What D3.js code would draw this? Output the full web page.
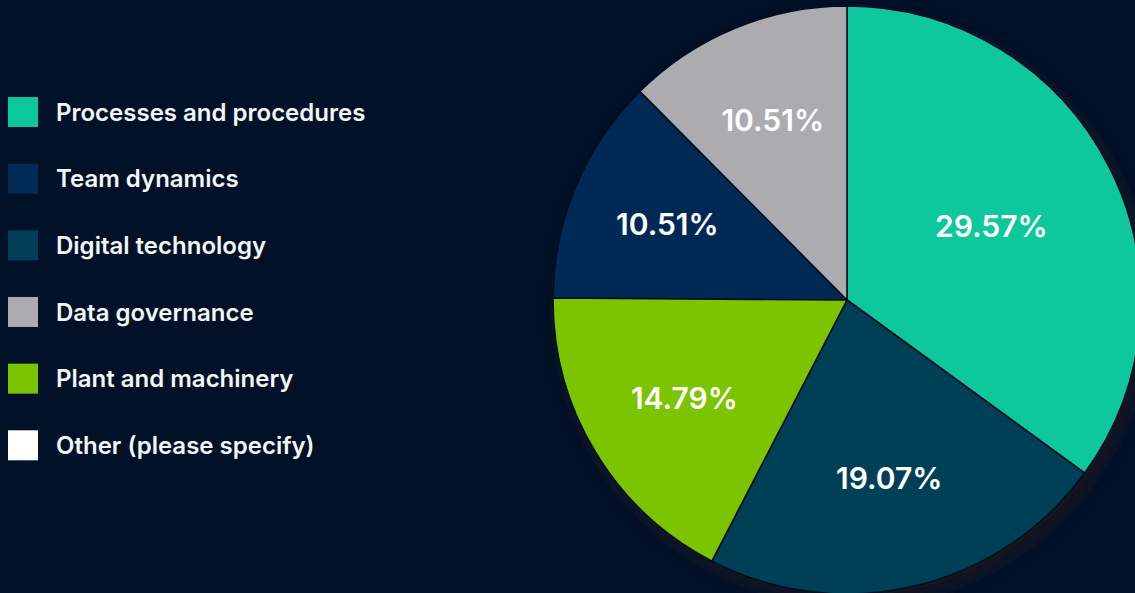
<!DOCTYPE html>
<html>
<head>
<meta charset="utf-8">
<script src="https://cdn.jsdelivr.net/npm/d3@7"></script>
<style>
  html, body { margin: 0; padding: 0; background: #001128; overflow: hidden; }
  svg { display: block; }
</style>
</head>
<body>
<svg id="chart" width="1135" height="593"></svg>
<script>
// Survey responses: share of answers per challenge area
const categories = [
  "Processes and procedures",
  "Team dynamics",
  "Digital technology",
  "Data governance",
  "Plant and machinery",
  "Other (please specify)"
];
// "Other" is listed in the legend but has no slice in the pie
const shares = [29.57, 10.51, 19.07, 10.51, 14.79, null];
const colors = ["#0BC89C", "#012A55", "#003F57", "#ACACB0", "#7BC300", "#FFFFFF"];

const width = 1135, height = 593;
const cx = 847, cy = 300, radius = 294;

const svg = d3.select("#chart");

// soft shadow under the pie
const defs = svg.append("defs");
const shadow = defs.append("filter").attr("id", "pieShadow")
  .attr("x", "-20%").attr("y", "-20%").attr("width", "140%").attr("height", "140%");
shadow.append("feDropShadow")
  .attr("dx", 5).attr("dy", 7).attr("stdDeviation", 9)
  .attr("flood-color", "#1a1424").attr("flood-opacity", 0.85);

const color = d3.scaleOrdinal().domain(categories).range(colors);

const rows = categories.map((c, i) => ({ category: c, value: shares[i] }));
const sliceData = rows.filter(d => d.value != null);

// default d3.pie ordering: largest first, clockwise from 12 o'clock
const pie = d3.pie().value(d => d.value);
const arcs = pie(sliceData);
const arc = d3.arc().innerRadius(0).outerRadius(radius);

const g = svg.append("g").attr("transform", `translate(${cx},${cy})`);

g.append("g").attr("filter", "url(#pieShadow)")
  .selectAll("path")
  .data(arcs)
  .join("path")
  .attr("d", arc)
  .attr("fill", d => color(d.data.category))
  .attr("stroke", "#000E20")
  .attr("stroke-width", 1.6)
  .attr("stroke-linejoin", "round");

// labels sit near the centroid of each sector
function labelPos(d) {
  const theta = d.endAngle - d.startAngle;
  const mid = (d.startAngle + d.endAngle) / 2;
  const dist = 4 * radius * Math.sin(theta / 2) / (3 * theta) * 1.02;
  return [Math.sin(mid) * dist, -Math.cos(mid) * dist];
}

g.append("g")
  .selectAll("text")
  .data(arcs)
  .join("text")
  .attr("transform", d => `translate(${labelPos(d)})`)
  .attr("text-anchor", "middle")
  .attr("dy", "0.36em")
  .attr("fill", "#FFFFFF")
  .style("font-family", "Inter, 'Noto Sans', sans-serif")
  .style("font-size", "30px")
  .style("font-weight", 600)
  .text(d => d.data.value.toFixed(2) + "%");

// legend
const legendY = d3.scalePoint().domain(categories).range([112, 445.3]);
const legend = svg.append("g")
  .selectAll("g")
  .data(categories)
  .join("g")
  .attr("transform", d => `translate(8,${legendY(d)})`);

legend.append("rect")
  .attr("x", 0).attr("y", -15)
  .attr("width", 30).attr("height", 30)
  .attr("fill", d => color(d));

legend.append("text")
  .attr("x", 48)
  .attr("dy", "0.36em")
  .attr("fill", "#F4F5F7")
  .style("font-family", "Inter, 'Noto Sans', sans-serif")
  .style("font-size", "24px")
  .style("font-weight", 600)
  .text(d => d);
</script>
</body>
</html>
